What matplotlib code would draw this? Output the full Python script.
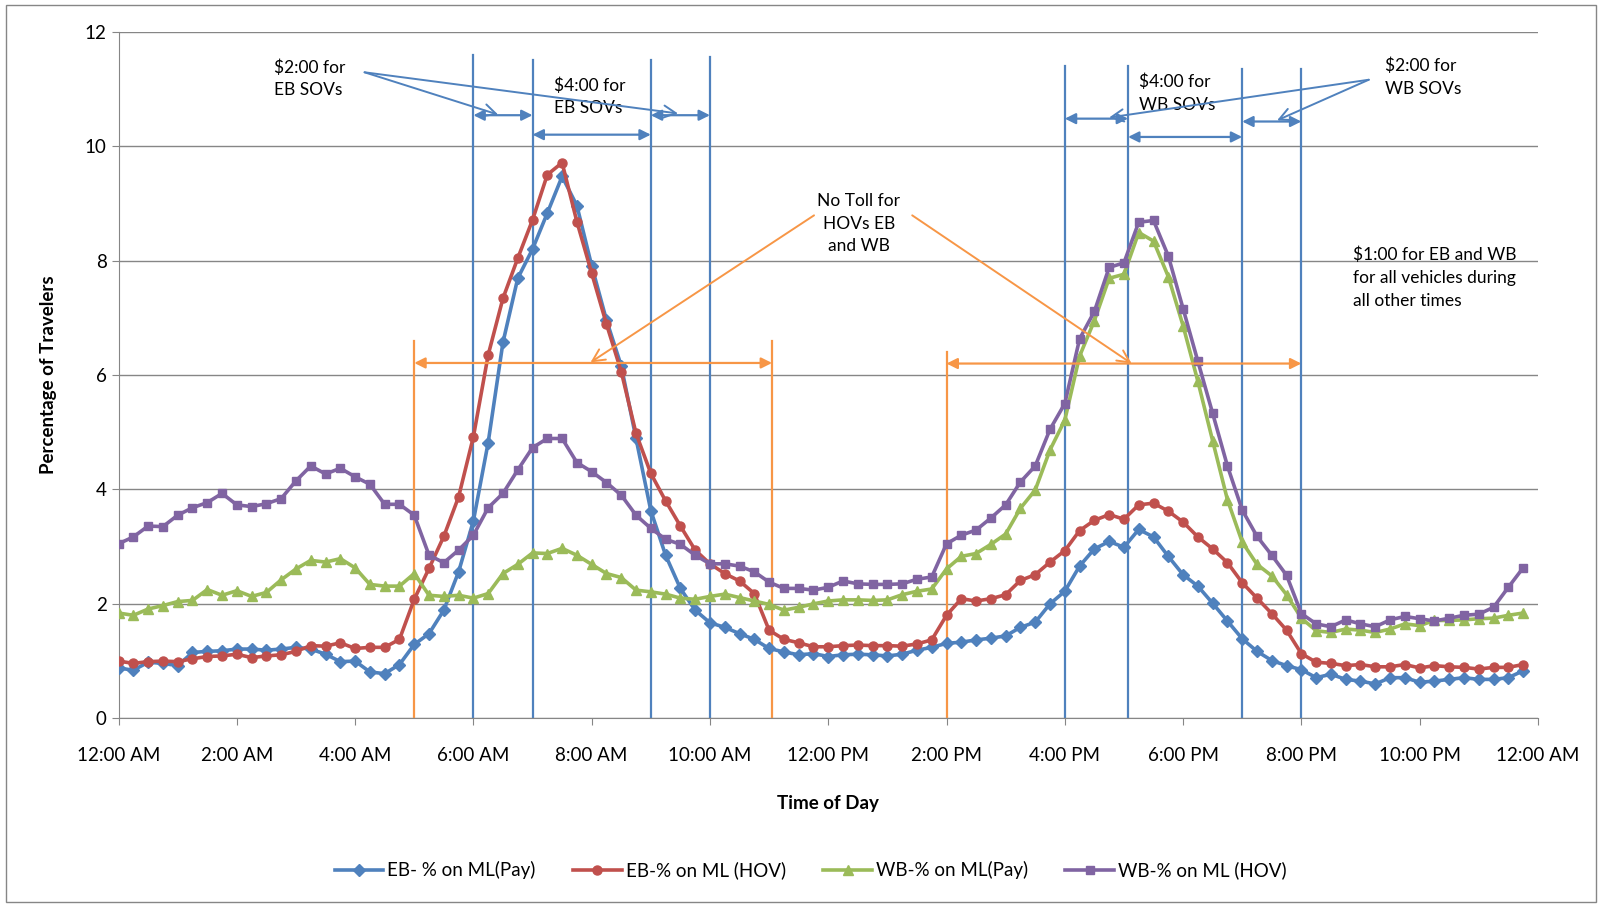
import numpy as np
import matplotlib.pyplot as plt
from matplotlib.patches import Rectangle

plt.rcParams['font.family'] = ['Lato', 'DejaVu Sans']

# ------------------------------
# Dati: percentuale di viaggiatori ogni 15 minuti
# ------------------------------
ore = np.arange(0, 24, 0.25)

eb_pay = [0.88, 0.84, 0.98, 0.96, 0.92, 1.15, 1.17, 1.18, 1.21, 1.21, 1.19, 1.21, 1.24, 1.21, 1.12, 0.99,
          1.00, 0.81, 0.78, 0.94, 1.29, 1.48, 1.89, 2.56, 3.45, 4.82, 6.57, 7.69, 8.20, 8.83, 9.47, 8.96,
          7.91, 6.96, 6.16, 4.89, 3.63, 2.85, 2.27, 1.89, 1.67, 1.59, 1.48, 1.38, 1.22, 1.16, 1.11, 1.13,
          1.08, 1.11, 1.12, 1.11, 1.09, 1.12, 1.19, 1.24, 1.31, 1.33, 1.37, 1.40, 1.44, 1.59, 1.68, 2.00,
          2.22, 2.66, 2.96, 3.09, 2.99, 3.30, 3.17, 2.83, 2.51, 2.31, 2.01, 1.70, 1.39, 1.17, 1.01, 0.92,
          0.85, 0.71, 0.77, 0.68, 0.65, 0.60, 0.71, 0.71, 0.63, 0.65, 0.68, 0.71, 0.68, 0.68, 0.71, 0.83]

eb_hov = [1.00, 0.96, 0.99, 1.00, 0.99, 1.04, 1.08, 1.09, 1.12, 1.06, 1.09, 1.11, 1.17, 1.27, 1.26, 1.32,
          1.22, 1.24, 1.24, 1.38, 2.08, 2.62, 3.18, 3.87, 4.92, 6.35, 7.34, 8.04, 8.71, 9.50, 9.71, 8.68,
          7.78, 6.89, 6.06, 4.98, 4.28, 3.80, 3.36, 2.94, 2.70, 2.53, 2.40, 2.18, 1.54, 1.38, 1.32, 1.25,
          1.25, 1.27, 1.28, 1.27, 1.27, 1.26, 1.30, 1.37, 1.80, 2.09, 2.05, 2.09, 2.16, 2.41, 2.51, 2.73,
          2.93, 3.28, 3.46, 3.56, 3.48, 3.73, 3.76, 3.62, 3.43, 3.17, 2.96, 2.72, 2.37, 2.10, 1.83, 1.54,
          1.13, 0.98, 0.96, 0.92, 0.94, 0.90, 0.90, 0.94, 0.88, 0.92, 0.90, 0.89, 0.86, 0.89, 0.89, 0.94]

wb_pay = [1.84, 1.80, 1.91, 1.97, 2.04, 2.06, 2.25, 2.15, 2.23, 2.13, 2.20, 2.42, 2.61, 2.76, 2.73, 2.79,
          2.63, 2.34, 2.31, 2.31, 2.53, 2.15, 2.13, 2.15, 2.10, 2.18, 2.53, 2.69, 2.89, 2.88, 2.97, 2.85,
          2.69, 2.53, 2.46, 2.24, 2.21, 2.17, 2.10, 2.08, 2.13, 2.17, 2.11, 2.05, 1.99, 1.89, 1.94, 2.00,
          2.05, 2.07, 2.07, 2.06, 2.07, 2.16, 2.22, 2.26, 2.61, 2.83, 2.88, 3.04, 3.22, 3.67, 3.99, 4.69,
          5.21, 6.33, 6.95, 7.69, 7.76, 8.49, 8.34, 7.72, 6.86, 5.89, 4.85, 3.82, 3.08, 2.69, 2.49, 2.16,
          1.75, 1.53, 1.50, 1.56, 1.54, 1.50, 1.56, 1.65, 1.62, 1.71, 1.71, 1.72, 1.74, 1.75, 1.80, 1.84]

wb_hov = [3.05, 3.17, 3.36, 3.35, 3.55, 3.68, 3.77, 3.93, 3.73, 3.70, 3.75, 3.84, 4.15, 4.41, 4.27, 4.37,
          4.22, 4.09, 3.74, 3.74, 3.55, 2.85, 2.72, 2.94, 3.20, 3.68, 3.93, 4.34, 4.73, 4.89, 4.89, 4.47,
          4.31, 4.12, 3.90, 3.55, 3.32, 3.13, 3.04, 2.85, 2.70, 2.70, 2.66, 2.56, 2.38, 2.27, 2.27, 2.24,
          2.29, 2.40, 2.35, 2.34, 2.34, 2.35, 2.43, 2.47, 3.05, 3.20, 3.29, 3.50, 3.73, 4.13, 4.41, 5.05,
          5.50, 6.63, 7.11, 7.88, 7.96, 8.67, 8.70, 8.08, 7.16, 6.24, 5.33, 4.41, 3.64, 3.18, 2.85, 2.50,
          1.83, 1.65, 1.60, 1.72, 1.65, 1.60, 1.72, 1.78, 1.74, 1.70, 1.75, 1.80, 1.82, 1.94, 2.29, 2.63]

etichette_x = ['12:00 AM', '2:00 AM', '4:00 AM', '6:00 AM', '8:00 AM', '10:00 AM', '12:00 PM',
               '2:00 PM', '4:00 PM', '6:00 PM', '8:00 PM', '10:00 PM', '12:00 AM']

# orari dei pedaggi
linee_blu = [6, 7, 9, 10, 16, 17.07, 19, 20]
top_blu = [11.6, 11.5, 11.5, 11.55, 11.4, 11.4, 11.35, 11.35]
linee_arancio = [5, 11.05, 14]
top_arancio = [6.6, 6.6, 6.4]

blu = '#4F81BD'
rosso = '#C0504D'
verde = '#9BBB59'
viola = '#8064A2'
arancio = '#F79646'

# ------------------------------
# Plot
# ------------------------------
fig = plt.figure(figsize=(16.02, 9.05), dpi=100)
ax = fig.add_axes([0.074, 0.2063, 0.886, 0.7587])

for x, t in zip(linee_blu, top_blu):
    ax.plot([x, x], [0, t], color=blu, lw=1.6, zorder=1)
for x, t in zip(linee_arancio, top_arancio):
    ax.plot([x, x], [0, t], color=arancio, lw=1.6, zorder=1)

ax.plot(ore, eb_pay, color=blu, lw=2.6, marker='D', ms=6.5, label='EB- % on ML(Pay)', zorder=3)
ax.plot(ore, eb_hov, color=rosso, lw=2.6, marker='o', ms=6.5, label='EB-% on ML (HOV)', zorder=3)
ax.plot(ore, wb_pay, color=verde, lw=2.6, marker='^', ms=7.5, label='WB-% on ML(Pay)', zorder=3)
ax.plot(ore, wb_hov, color=viola, lw=2.6, marker='s', ms=5.5, label='WB-% on ML (HOV)', zorder=3)

# frecce doppie blu (fasce di pedaggio)
frecce_blu = [(6, 7, 10.54), (9, 10, 10.54), (7, 9, 10.2), (16, 17.07, 10.48), (17.07, 19, 10.16), (19, 20, 10.43)]
for x0, x1, y in frecce_blu:
    ax.annotate('', xy=(x1, y), xytext=(x0, y),
                arrowprops=dict(arrowstyle='<|-|>', color=blu, lw=1.6, mutation_scale=16, shrinkA=0, shrinkB=0))

# frecce doppie arancio (HOV gratis)
for x0, x1, y in [(5, 11.05, 6.21), (14, 20, 6.2)]:
    ax.annotate('', xy=(x1, y), xytext=(x0, y),
                arrowprops=dict(arrowstyle='<|-|>', color=arancio, lw=1.6, mutation_scale=16, shrinkA=0, shrinkB=0))

# testi
ax.text(2.63, 11.18, '$2:00 for\nEB SOVs', fontsize=12.5, va='center', ha='left', linespacing=1.5)
ax.text(7.36, 10.86, '$4:00 for\nEB SOVs', fontsize=12.5, va='center', ha='left', linespacing=1.5)
ax.text(17.25, 10.92, '$4:00 for\nWB SOVs', fontsize=12.5, va='center', ha='left', linespacing=1.5)
ax.text(21.42, 11.2, '$2:00 for\nWB SOVs', fontsize=12.5, va='center', ha='left', linespacing=1.5)
ax.text(12.52, 8.64, 'No Toll for\nHOVs EB\nand WB', fontsize=12.5, va='center', ha='center', linespacing=1.5)
ax.text(20.88, 7.7, '$1:00 for EB and WB\nfor all vehicles during\nall other times', fontsize=12.5,
        va='center', ha='left', linespacing=1.55)

# linee di richiamo
richiami = [((4.16, 11.29), (6.42, 10.55), blu), ((4.16, 11.29), (9.46, 10.57), blu),
            ((21.14, 11.16), (19.59, 10.45), blu), ((21.14, 11.16), (16.75, 10.5), blu),
            ((11.76, 8.79), (7.98, 6.22), arancio), ((13.42, 8.79), (17.13, 6.2), arancio)]
for p0, p1, c in richiami:
    ax.annotate('', xy=p1, xytext=p0,
                arrowprops=dict(arrowstyle='->', color=c, lw=1.4, mutation_scale=22, shrinkA=0, shrinkB=0))

# assi
ax.set_xlim(0, 24)
ax.set_ylim(0, 12)
ax.set_xticks(np.arange(0, 25, 2))
ax.set_xticklabels(etichette_x, fontsize=13.5)
ax.set_yticks(np.arange(0, 13, 2))
ax.tick_params(axis='y', labelsize=13.5, length=5, color='#868686')
ax.tick_params(axis='x', length=5, color='#868686', pad=16)
ax.grid(True, axis='y', color='#868686', lw=1)
ax.set_axisbelow(True)
for s in ['top', 'right']:
    ax.spines[s].set_visible(False)
for s in ['left', 'bottom']:
    ax.spines[s].set_color('#868686')
ax.set_ylabel('Percentage of Travelers', fontsize=13.5, fontweight='bold', labelpad=20)
ax.set_xlabel('Time of Day', fontsize=13.5, fontweight='bold', labelpad=22)

fig.legend(loc='lower center', bbox_to_anchor=(0.506, 0.01), ncol=4, frameon=False, fontsize=13.5,
           columnspacing=2.0, handlelength=2.6, handletextpad=0.2)

fig.patches.append(Rectangle((0.004, 0.003), 0.992, 0.992, transform=fig.transFigure,
                             fill=False, edgecolor='#868686', lw=1))

plt.savefig('out.png', dpi=100)
